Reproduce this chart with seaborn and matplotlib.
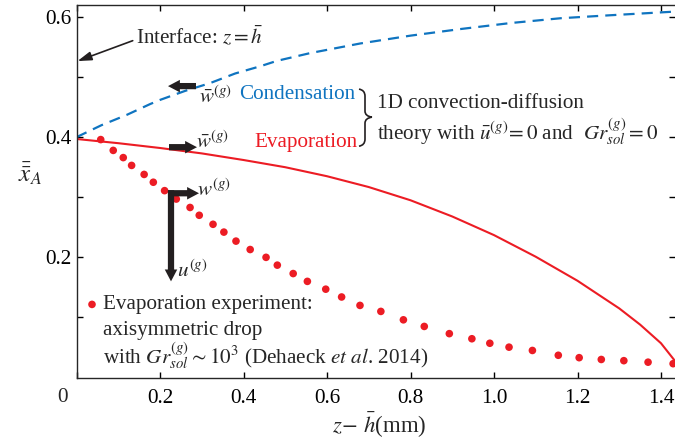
import numpy as np
import pandas as pd
import matplotlib
matplotlib.use("Agg")
import matplotlib.pyplot as plt
import seaborn as sns
from matplotlib.patches import FancyArrowPatch, PathPatch
from matplotlib.path import Path

# ---------------- data ----------------
cond_x = [0.0, 0.06, 0.12, 0.176, 0.20, 0.26, 0.32, 0.38, 0.44, 0.48, 0.56, 0.68, 0.80, 0.92, 1.04, 1.16, 1.28, 1.433]
cond_y = [0.400, 0.420, 0.437, 0.455, 0.462, 0.477, 0.490, 0.506, 0.518, 0.527, 0.540, 0.556, 0.569, 0.580, 0.590, 0.598, 0.603, 0.609]

evap_x = [0.0, 0.1, 0.2, 0.3, 0.4, 0.5, 0.6, 0.7, 0.8, 0.9, 1.0, 1.1, 1.2, 1.3, 1.35, 1.4, 1.433]
evap_y = [0.397, 0.390, 0.382, 0.373, 0.362, 0.350, 0.335, 0.317, 0.295, 0.268, 0.237, 0.201, 0.161, 0.115, 0.088, 0.057, 0.028]

exp_x = [0.058, 0.088, 0.112, 0.132, 0.162, 0.184, 0.211, 0.239, 0.272, 0.294, 0.327, 0.353,
         0.382, 0.416, 0.454, 0.481, 0.519, 0.553, 0.597, 0.635, 0.679, 0.729, 0.783, 0.833,
         0.893, 0.947, 0.990, 1.036, 1.092, 1.154, 1.204, 1.257, 1.311, 1.369, 1.429]
exp_y = [0.396, 0.378, 0.366, 0.353, 0.338, 0.325, 0.311, 0.297, 0.283, 0.270, 0.255, 0.242,
         0.227, 0.213, 0.200, 0.187, 0.173, 0.160, 0.147, 0.134, 0.120, 0.110, 0.096, 0.085,
         0.073, 0.0645, 0.057, 0.0505, 0.045, 0.037, 0.033, 0.030, 0.028, 0.0255, 0.023]

xticks = [0.0, 0.2, 0.4, 0.6, 0.8, 1.0, 1.2, 1.4]
xtick_labels = ["", "0.2", "0.4", "0.6", "0.8", "1.0", "1.2", "1.4"]
yticks = [0.1, 0.2, 0.3, 0.4, 0.5, 0.6]
ytick_labels = ["", "0.2", "", "0.4", "", "0.6"]

BLUE = "#0f74c0"
RED = "#ec1c24"
DARK = "#231f20"

# ---------------- style ----------------
sns.set_theme(style="ticks")
plt.rcParams["font.family"] = ["Liberation Serif", "DejaVu Serif"]
plt.rcParams["mathtext.fontset"] = "stix"
plt.rcParams["axes.linewidth"] = 1.0

W, H = 675, 443
fig = plt.figure(figsize=(W / 100, H / 100), dpi=100)
L_px, R_px, T_px, B_px = 76.5, 675.0, 5.0, 377.5
ax = fig.add_axes([L_px / W, 1 - B_px / H, (R_px - L_px) / W, (B_px - T_px) / H])

def d(px, py):
    """pixel position -> data coordinates"""
    return ((px - 76.5) / 417.5, (377.0 - py) / 600.0)

cond_df = pd.DataFrame({"x": cond_x, "y": cond_y})
evap_df = pd.DataFrame({"x": evap_x, "y": evap_y})
exp_df = pd.DataFrame({"x": exp_x, "y": exp_y})

sns.lineplot(data=cond_df, x="x", y="y", ax=ax, color=BLUE, lw=1.6,
             linestyle=(0, (5, 3.2)), sort=False, estimator=None)
sns.lineplot(data=evap_df, x="x", y="y", ax=ax, color=RED, lw=1.5, sort=False, estimator=None)
sns.scatterplot(data=exp_df, x="x", y="y", ax=ax, color=RED, s=30, edgecolor="none",
                linewidth=0, clip_on=False, zorder=5)

ax.set_xlim(0, (R_px - 76.5) / 417.5)
ax.set_ylim(0, (377.0 - T_px) / 600.0)
ax.set_xticks(xticks)
ax.set_xticklabels(xtick_labels)
ax.set_yticks(yticks)
ax.set_yticklabels(ytick_labels)
ax.set_xlabel("")
ax.set_ylabel("")
ax.spines["right"].set_visible(False)
TFS = 15.2
ax.tick_params(axis="both", direction="in", length=4.5, width=1.0, labelsize=TFS,
               top=True, right=True, colors="black")
ax.tick_params(axis="x", pad=8)
ax.tick_params(axis="y", pad=3.5)

FS = 15.2
# origin label
fig.text(62 / W, 1 - 397 / H, "0", ha="center", va="center", fontsize=TFS)
# axis labels
fig.text(379 / W, 1 - 425 / H, r"$z\!-\,\bar{h}$(mm)", ha="center", va="center", fontsize=16.5)
fig.text(30 / W, 1 - 174 / H, r"$\bar{\bar{x}}_A$", ha="center", va="center", fontsize=18)

# Interface annotation
ax.annotate("Interface: $z=\\bar{h}$", xy=d(77.5, 61), xytext=d(136, 37),
            ha="left", va="center", fontsize=FS,
            arrowprops=dict(arrowstyle="-|>,head_length=0.7,head_width=0.22", color=DARK,
                            lw=1.2, shrinkA=0, shrinkB=0, mutation_scale=12,
                            relpos=(0.0, 0.4)))

# thick arrows
thick = "simple,head_length=0.95,head_width=1.0,tail_width=0.5"
def thick_arrow(p0, p1):
    a = FancyArrowPatch(d(*p0), d(*p1), arrowstyle=thick, mutation_scale=9,
                        color=DARK, lw=0, shrinkA=0, shrinkB=0, zorder=6)
    ax.add_patch(a)

thick_arrow((196, 86), (168, 86))      # condensation: leftwards
thick_arrow((169, 147), (197, 147))    # evaporation: rightwards
thick_arrow((171, 190), (171, 281))    # u^(g) downwards
thick_arrow((168, 193), (199, 193))    # w^(g) rightwards

# labels near arrows
ax.text(*d(199, 97), r"$\bar{w}^{(g)}$", ha="left", va="center", fontsize=FS)
ax.text(*d(239, 94), "Condensation", ha="left", va="center", fontsize=FS, color=BLUE)
ax.text(*d(196, 142), r"$\bar{w}^{(g)}$", ha="left", va="center", fontsize=FS)
ax.text(*d(254, 142), "Evaporation", ha="left", va="center", fontsize=FS, color=RED)
ax.text(*d(197, 190), r"$w^{(g)}$", ha="left", va="center", fontsize=FS)
ax.text(*d(177, 271), r"$u^{(g)}$", ha="left", va="center", fontsize=FS)

# brace
bx0, bx1, bx2 = 359, 365, 372
by0, by1, by2 = 89, 117, 146
verts = [d(bx0, by0), d(bx1, by0 + 1), d(bx1, by0 + 7), d(bx1, by1 - 6),
         d(bx1, by1 - 1), d(bx2, by1), d(bx2, by1),
         d(bx1, by1 + 1), d(bx1, by1 + 6), d(bx1, by2 - 7),
         d(bx1, by2 - 1), d(bx0, by2)]
codes = [Path.MOVETO, Path.CURVE3, Path.CURVE3, Path.LINETO,
         Path.CURVE3, Path.CURVE3, Path.MOVETO,
         Path.CURVE3, Path.CURVE3, Path.LINETO,
         Path.CURVE3, Path.CURVE3]
ax.add_patch(PathPatch(Path(verts, codes), fill=False, lw=1.2, color=DARK))

ax.text(*d(377, 103), "1D convection-diffusion", ha="left", va="center", fontsize=FS)
ax.text(*d(377, 132), r"theory with $\bar{u}^{(g)}\!=0$ and  $Gr^{(g)}_{sol}=0$",
        ha="left", va="center", fontsize=FS)

# experiment legend
ax.scatter(*d(92, 304), s=30, color=RED, edgecolor="none", zorder=5)
ax.text(*d(103, 304), "Evaporation experiment:", ha="left", va="center", fontsize=FS)
ax.text(*d(103, 330), "axisymmetric drop", ha="left", va="center", fontsize=FS)
ax.text(*d(103, 355), r"with $Gr^{(g)}_{sol}\sim 10^3$ (Dehaeck $et\ al$. 2014)",
        ha="left", va="center", fontsize=FS)

fig.savefig("out.png", dpi=100)
